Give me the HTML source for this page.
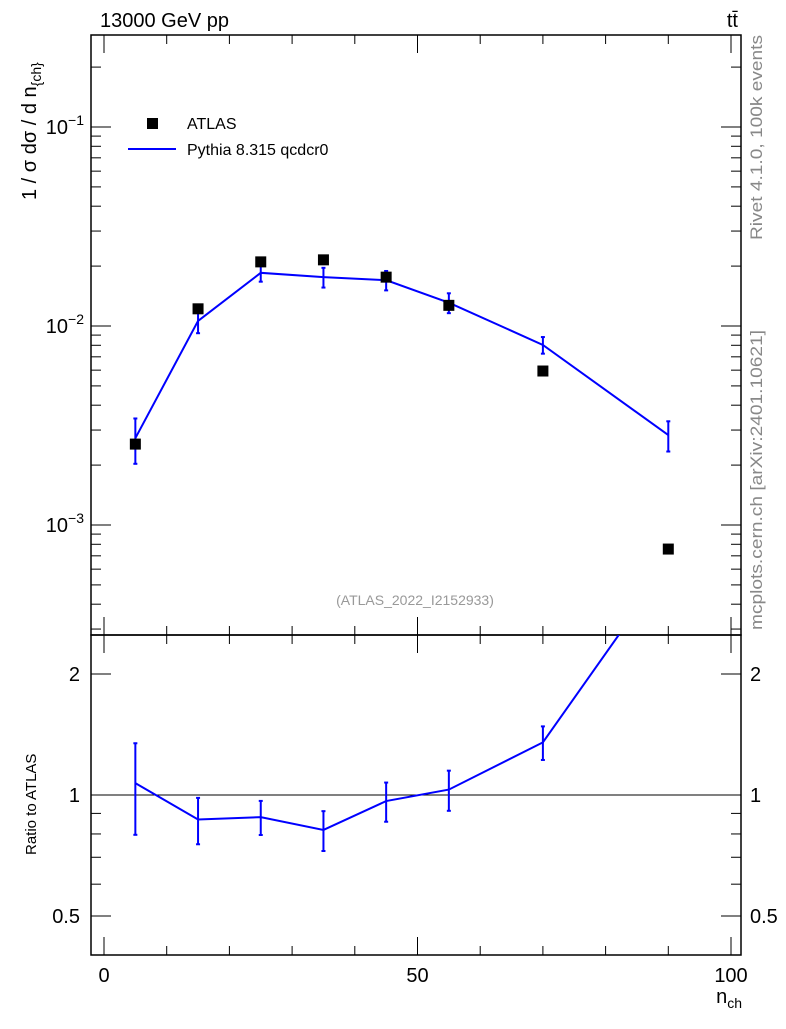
<!DOCTYPE html>
<html><head><meta charset="utf-8"><style>
body{margin:0;background:#fff}
svg text{font-family:"Liberation Sans",Arial,sans-serif}
</style></head><body>
<svg id="c" width="786" height="1024" viewBox="0 0 786 1024" xmlns="http://www.w3.org/2000/svg">
<rect width="786" height="1024" fill="#fff"/>
<g id="g"></g>
<text x="100" y="27" font-size="20">13000 GeV pp</text>
<text x="738" y="27" font-size="20" text-anchor="end">tt̄</text>
<text transform="translate(762,240) rotate(-90)" font-size="17" fill="#888" textLength="205" lengthAdjust="spacingAndGlyphs">Rivet 4.1.0,  100k events</text>
<text transform="translate(762,630) rotate(-90)" font-size="17" fill="#888" textLength="300" lengthAdjust="spacingAndGlyphs">mcplots.cern.ch [arXiv:2401.10621]</text>
<text x="415" y="605" font-size="14" fill="#999" text-anchor="middle">(ATLAS_2022_I2152933)</text>
<text transform="translate(36,200) rotate(-90)" font-size="20">1 / σ dσ / d n<tspan font-size="14" dy="5">{ch}</tspan></text>
<text transform="translate(36,855) rotate(-90)" font-size="15">Ratio to ATLAS</text>
<text x="742" y="1003" font-size="20" text-anchor="end">n<tspan font-size="14" dy="5">ch</tspan></text>
<g>
<rect x="147" y="118" width="11" height="11" fill="#000"/>
<text x="187" y="129" font-size="16">ATLAS</text>
<line x1="128" y1="149" x2="176" y2="149" stroke="#00f" stroke-width="2"/>
<text x="187" y="155" font-size="16">Pythia 8.315 qcdcr0</text>
</g>
</svg>
<script>
const nch=[5,15,25,35,45,55,70,90];
const atlas=[2.55e-3,1.22e-2,2.10e-2,2.15e-2,1.76e-2,1.27e-2,5.94e-3,7.57e-4];
const pythia=[2.73e-3,1.06e-2,1.85e-2,1.76e-2,1.70e-2,1.31e-2,8.03e-3,2.83e-3];
const pythiaErr=[7e-4,1.4e-3,1.8e-3,2.0e-3,1.9e-3,1.5e-3,7.7e-4,4.9e-4];
const xTicks=[0,50,100];
const yTicks=[-1,-2,-3];
const rTicks=[0.5,1,2];

const NS='http://www.w3.org/2000/svg';
const g=document.getElementById('g');
const L=91,R=741,T=35,M=635,B=955;
const X=v=>104+v*6.27;
const Y=v=>326-(Math.log10(v)+2)*199;
const YR=v=>795-Math.log2(v)*121;
function mk(t,a,p){const e=document.createElementNS(NS,t);for(const k in a)e.setAttribute(k,a[k]);(p||g).appendChild(e);return e;}
function txt(x,y,s,a){const e=mk('text',Object.assign({x:x,y:y,'font-size':20},a||{}));e.textContent=s;return e;}
let f=mk('rect',{x:L,y:T,width:R-L,height:M-T,fill:'none',stroke:'#000','stroke-width':1.5});

f=mk('rect',{x:L,y:M,width:R-L,height:B-M,fill:'none',stroke:'#000','stroke-width':1.5});

for(let v=0;v<=100;v+=10){const maj=v%50===0,len=maj?18:9;
 [[M,-1],[T,1],[B,-1],[M,1]].forEach(([y0,d])=>mk('line',{x1:X(v),x2:X(v),y1:y0,y2:y0+d*len,stroke:'#000'}));}
xTicks.forEach(v=>{const t=txt(X(v),982,String(v),{'text-anchor':'middle'});
 });
for(let d=-4;d<=0;d++)for(let m=1;m<10;m++){const v=m*Math.pow(10,d),y=Y(v);if(y<T||y>M)continue;
 const len=m===1?20:10;mk('line',{x1:L,x2:L+len,y1:y,y2:y,stroke:'#000'});mk('line',{x1:R,x2:R-len,y1:y,y2:y,stroke:'#000'});}
yTicks.forEach(d=>{const t=txt(84,Y(Math.pow(10,d))+7,'10',{'text-anchor':'end'});
 const s=mk('tspan',{'font-size':14,dy:-9},t);s.textContent=String(d).replace('-','−');
 });
[0.5,0.6,0.7,0.8,0.9,1,2].forEach(v=>{const y=YR(v),len=rTicks.includes(v)?20:10;
 mk('line',{x1:L,x2:L+len,y1:y,y2:y,stroke:'#000'});mk('line',{x1:R,x2:R-len,y1:y,y2:y,stroke:'#000'});});
rTicks.forEach(v=>{[[80,'end'],[750,'start']].forEach(([x,a])=>{const t=txt(x,YR(v)+7,String(v),{'text-anchor':a});
 });});
let ln=mk('line',{x1:L,x2:R,y1:YR(1),y2:YR(1),stroke:'#000'});

const defs=mk('defs',{});
const c1=mk('clipPath',{id:'cm'},defs);mk('rect',{x:L,y:T,width:R-L,height:M-T},c1);
const c2=mk('clipPath',{id:'cr'},defs);mk('rect',{x:L,y:M,width:R-L,height:B-M},c2);
const gm=mk('g',{'clip-path':'url(#cm)'});const gr=mk('g',{'clip-path':'url(#cr)'});
let pl=mk('polyline',{points:nch.map((x,i)=>X(x)+','+Y(pythia[i])).join(' '),fill:'none',stroke:'#00f','stroke-width':2},gm);

nch.forEach((x,i)=>{const e=mk('line',{x1:X(x),x2:X(x),y1:Y(pythia[i]+pythiaErr[i]),y2:Y(pythia[i]-pythiaErr[i]),stroke:'#00f','stroke-width':2},gm);
 
 [pythia[i]+pythiaErr[i],pythia[i]-pythiaErr[i]].forEach(v=>mk('line',{x1:X(x)-2,x2:X(x)+2,y1:Y(v),y2:Y(v),stroke:'#00f','stroke-width':2},gm));});
nch.forEach((x,i)=>{const r=mk('rect',{x:X(x)-5.5,y:Y(atlas[i])-5.5,width:11,height:11,fill:'#000'},gm);
 });
const ratio=pythia.map((v,i)=>v/atlas[i]);
pl=mk('polyline',{points:nch.map((x,i)=>X(x)+','+YR(ratio[i])).join(' '),fill:'none',stroke:'#00f','stroke-width':2},gr);

nch.forEach((x,i)=>{const e=pythiaErr[i]/atlas[i],hi=ratio[i]+e,lo=ratio[i]-e;
 const b=mk('line',{x1:X(x),x2:X(x),y1:YR(hi),y2:YR(lo),stroke:'#00f','stroke-width':2},gr);
 
 [hi,lo].forEach(v=>mk('line',{x1:X(x)-2,x2:X(x)+2,y1:YR(v),y2:YR(v),stroke:'#00f','stroke-width':2},gr));});
</script>
</body></html>
